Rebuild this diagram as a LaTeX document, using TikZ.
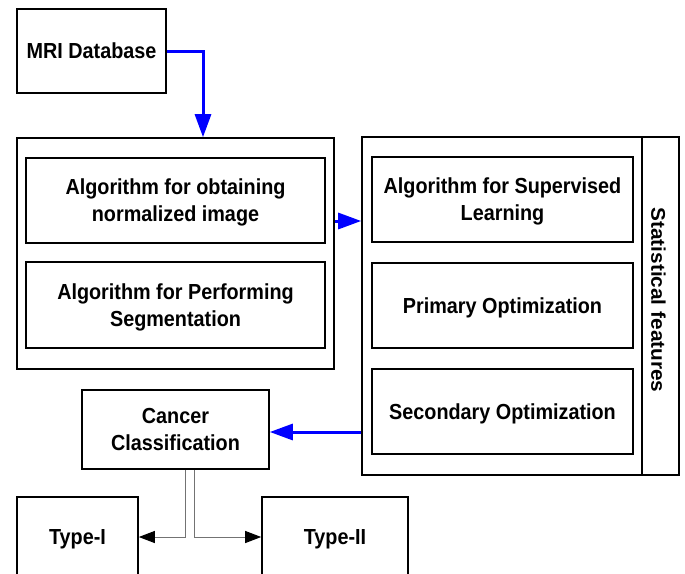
\documentclass[tikz,border=0pt]{standalone}
\usepackage{fontspec}
\setmainfont{Liberation Sans}
\usetikzlibrary{arrows.meta}
% text slightly taller than wide, lines stacked in a centred column
\newcommand\tx[1]{\raisebox{-2.5pt}[\height][\depth]{\scalebox{1}[1.1]{\begin{tabular}{@{}c@{}}#1\end{tabular}}}}
\begin{document}
\begin{tikzpicture}[x=1pt,y=-1pt,
  every node/.style={font=\fontsize{19.8}{24.5}\selectfont\bfseries, align=center, inner sep=0pt},
  blk/.style={draw=black, line width=1.6pt, fill=white},
  frame/.style={draw=black, line width=1.6pt},
  flow/.style={draw=blue, line width=3pt, -{Triangle[length=23pt,width=16pt]}},
  branch/.style={draw=gray!90!black, line width=1pt, -{Triangle[length=16pt,width=12pt,color=black]}}]
\useasboundingbox (0,0) rectangle (685,573);
\clip (0,0) rectangle (685,573);

% source
\node[blk, minimum width=149pt, minimum height=84pt] (mri) at (91.5,51) {\tx{MRI Database}};

% preprocessing group
\node[frame, minimum width=317pt, minimum height=231pt] (pre) at (175.5,253.5) {};
\node[blk, minimum width=299pt, minimum height=85pt] (norm) at (175.5,200.5) {\tx{Algorithm for obtaining\\normalized image}};
\node[blk, minimum width=299pt, minimum height=86pt] (seg) at (175.5,305) {\tx{Algorithm for Performing\\Segmentation}};

% learning group with side label
\node[frame, minimum width=317pt, minimum height=338pt] (learn) at (520.5,306) {};
\coordinate (dtop) at (642,137);
\coordinate (dbot) at (642,475);
\draw[line width=1.6pt] (dtop) -- (dbot);
\node[rotate=-90] (stat) at (658.5,300) {\scalebox{1.05}[1]{Statistical features}};
\node[blk, minimum width=261pt, minimum height=85pt] (sup) at (502.5,199.5) {\tx{Algorithm for Supervised\\Learning}};
\node[blk, minimum width=261pt, minimum height=85pt] (prim) at (502.5,305.5) {\tx{Primary Optimization}};
\node[blk, minimum width=261pt, minimum height=85pt] (sec) at (502.5,411.5) {\tx{Secondary Optimization}};

% classification
\node[blk, minimum width=187pt, minimum height=79pt] (cls) at (175.5,429.5) {\tx{Cancer\\Classification}};
\node[blk, minimum width=121pt, minimum height=80pt] (t1) at (77.5,537) {\tx{Type-I}};
\node[blk, minimum width=146pt, minimum height=80pt] (t2) at (335,537) {\tx{Type-II}};

% connectors
\draw[flow] (mri.east) -| ([xshift=27.5pt]pre.north);
\draw[flow] ([yshift=32.5pt]pre.east) -- ([yshift=32.5pt]pre.east -| learn.west);
\draw[flow] ([yshift=-2.5pt]cls.east -| learn.west) -- ([yshift=-2.5pt]cls.east);
\draw[branch] ([xshift=9.5pt]cls.south) |- (t1.east);
\draw[branch] ([xshift=18.5pt]cls.south) |- (t2.west);
\end{tikzpicture}
\end{document}
